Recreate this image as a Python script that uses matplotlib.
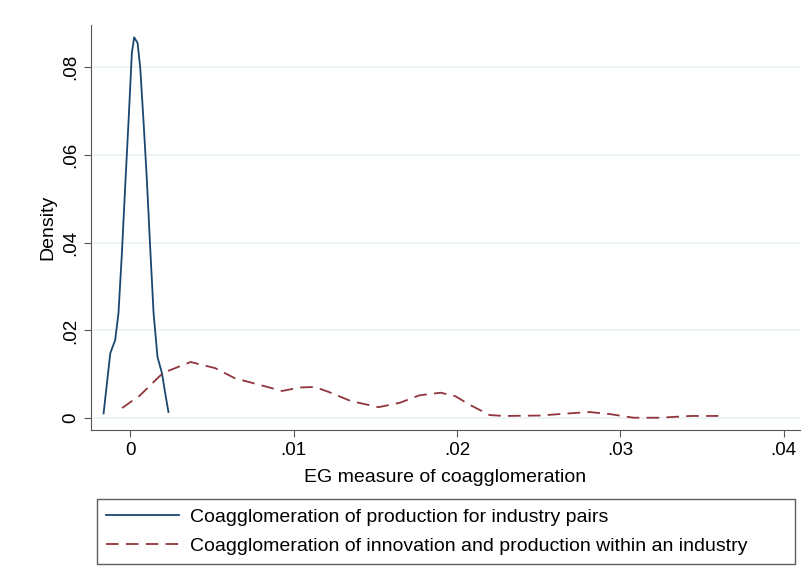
import numpy as np
import matplotlib
matplotlib.use("Agg")
import matplotlib.pyplot as plt

plt.rcParams['font.family'] = ['Liberation Sans', 'DejaVu Sans']

# kernel density, production coagglomeration (industry pairs)
prod_x = [-0.00163, -0.00122, -0.00092, -0.00072, -0.00051, -0.00031, -0.0001, 0.0001,
          0.00024, 0.00045, 0.00061, 0.00081, 0.00102, 0.00122, 0.00143, 0.00167,
          0.00194, 0.00214, 0.00234]
prod_y = [0.0011, 0.0148, 0.0178, 0.0239, 0.0376, 0.0527, 0.0679, 0.0832,
          0.0868, 0.0855, 0.0800, 0.0679, 0.0542, 0.0390, 0.0239, 0.0139,
          0.0103, 0.0057, 0.0014]

# kernel density, innovation & production within an industry
innov_x = [-0.0005, 0.0006, 0.002, 0.0037, 0.0052, 0.0064, 0.008, 0.0093, 0.0104,
           0.0113, 0.0122, 0.0135, 0.0152, 0.0165, 0.0177, 0.019, 0.0199, 0.0208,
           0.022, 0.0229, 0.0251, 0.0269, 0.0281, 0.0294, 0.0308, 0.0324, 0.0343, 0.036]
innov_y = [0.0023, 0.0052, 0.0103, 0.0128, 0.0114, 0.0091, 0.0075, 0.0062, 0.0070,
           0.0071, 0.0059, 0.0039, 0.0025, 0.0035, 0.0052, 0.0058, 0.0050, 0.0030,
           0.0007, 0.0005, 0.0006, 0.0011, 0.0014, 0.0009, 0.0001, 0.0001, 0.0005, 0.0005]

xticks = [0, 0.01, 0.02, 0.03, 0.04]
xtick_labels = ['0', '.01', '.02', '.03', '.04']
yticks = [0, 0.02, 0.04, 0.06, 0.08]
ytick_labels = ['0', '.02', '.04', '.06', '.08']

fig = plt.figure(figsize=(8.09, 5.84), dpi=100)
ax = fig.add_axes([0.1125, 0.2637, 0.8765, 0.6935])

ax.plot(prod_x, prod_y, color='#1a476f', lw=1.3,
        label='Coagglomeration of production for industry pairs')
ax.plot(innov_x, innov_y, color='#90353b', lw=1.3, ls=(0, (7, 4)),
        label='Coagglomeration of innovation and production within an industry')

ax.set_xlim(-0.0024, 0.041)
ax.set_ylim(-0.0027, 0.0896)
ax.set_xticks(xticks)
ax.set_xticklabels(xtick_labels)
ax.set_yticks(yticks)
ax.set_yticklabels(ytick_labels, rotation=90, va='center')
ax.yaxis.grid(True, color='#eaf2f3', lw=1.2)
ax.set_axisbelow(True)
for s in ['top', 'right']:
    ax.spines[s].set_visible(False)
for s in ['left', 'bottom']:
    ax.spines[s].set_color('#555555')
ax.tick_params(length=5, color='#555555', labelsize=13.5)
ax.set_xlabel('EG measure of coagglomeration', fontsize=14, labelpad=7)
ax.set_ylabel('Density', fontsize=14, labelpad=4)

leg = fig.legend(loc='center', bbox_to_anchor=(97 / 809, 1 - 564 / 584, 698 / 809, 65 / 584),
                 mode='expand', fontsize=14, handlelength=3.75, handletextpad=0.6,
                 frameon=True, fancybox=False, edgecolor='#333333', borderaxespad=0,
                 borderpad=0.45, labelspacing=0.6)
leg.get_frame().set_linewidth(1.0)

fig.savefig('out.png', dpi=100, facecolor='white')
